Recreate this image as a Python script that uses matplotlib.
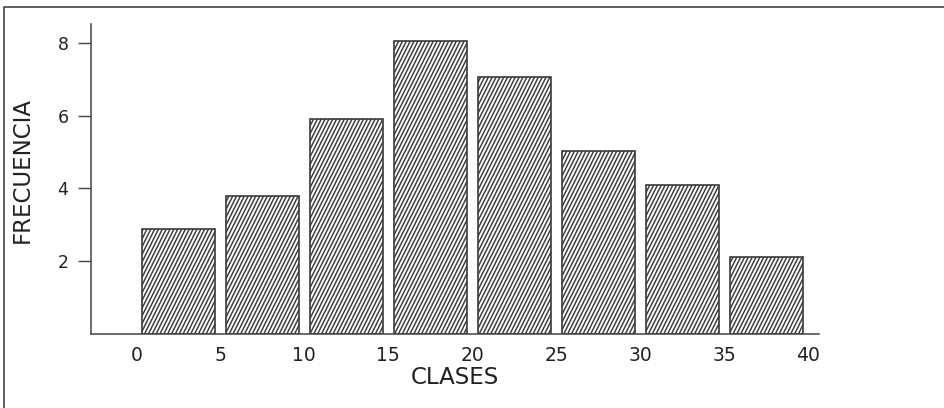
import numpy as np
import matplotlib
matplotlib.use("Agg")
import matplotlib.pyplot as plt
import matplotlib.hatch as mhatch
from matplotlib.path import Path
from matplotlib.lines import Line2D

# ---- data ----
bin_edges = [0, 5, 10, 15, 20, 25, 30, 35, 40]
frequencies = [2.88, 3.78, 5.92, 8.06, 7.05, 5.03, 4.08, 2.10]
y_ticks = [2, 4, 6, 8]
x_label = "CLASES"
y_label = "FRECUENCIA"


# ---- steeper, dense diagonal hatch for '/' ----
class SteepHatch(mhatch.HatchPatternBase):
    def __init__(self, hatch, density):
        self.n = 26 * hatch.count('/')
        if self.n:
            self.ks = list(range(-self.n // 2 - 1, self.n + 1))
            self.num_vertices = 2 * len(self.ks)
        else:
            self.num_vertices = 0

    def set_vertices_and_codes(self, vertices, codes):
        for i, k in enumerate(self.ks):
            c = k / self.n
            vertices[2 * i] = (c, 0.0)
            vertices[2 * i + 1] = (c + 0.5, 1.0)
        codes[0::2] = Path.MOVETO
        codes[1::2] = Path.LINETO


mhatch._hatch_types = [SteepHatch if t is mhatch.NorthEastHatch else t
                       for t in mhatch._hatch_types]

plt.rcParams['hatch.linewidth'] = 1.05
plt.rcParams['hatch.color'] = '#2a2a2a'
plt.rcParams['font.family'] = ['DejaVu Sans']

fig = plt.figure(figsize=(9.45, 4.08), dpi=100)
W, H = 945, 408
ax = fig.add_axes([91.3 / W, 1 - 333.8 / H, (819 - 91.3) / W, (333.8 - 24) / H])

lefts = np.array(bin_edges[:-1], dtype=float)
widths = np.diff(bin_edges)
centers = lefts + widths / 2
ax.bar(centers, frequencies, width=widths * 73.5 / 84, color='white',
       edgecolor='#3a3a3a', linewidth=1.2, hatch='/')

ax.set_xlim(-2.68, 40.64)
ax.set_ylim(0, 8.52)

for s in ['top', 'right']:
    ax.spines[s].set_visible(False)
for s in ['left', 'bottom']:
    ax.spines[s].set_color('#444444')
    ax.spines[s].set_linewidth(1.1)

ax.set_yticks(y_ticks)
ax.set_yticklabels([str(v) for v in y_ticks])
ax.set_xticks(bin_edges)
ax.set_xticklabels([str(v) for v in bin_edges])
ax.tick_params(axis='y', direction='out', length=9.5, width=1.0,
               color='#444444', pad=7, labelsize=12.5, labelcolor='#222222')
ax.tick_params(axis='x', length=0, pad=9, labelsize=13.5, labelcolor='#222222')

fig.text(455 / W, 1 - 377 / H, x_label, ha='center', va='center',
         fontsize=16.5, color='#222222')
fig.text(22 / W, 1 - 170 / H, y_label, ha='center', va='center',
         rotation=90, fontsize=16.5, color='#222222')

# outer frame (left and top edges visible)
fig.add_artist(Line2D([4 / W, 4 / W, 1.0], [0.0, 1 - 7 / H, 1 - 7 / H],
                      transform=fig.transFigure, color='#333333', linewidth=1.1))

fig.savefig("out.png", dpi=100)
